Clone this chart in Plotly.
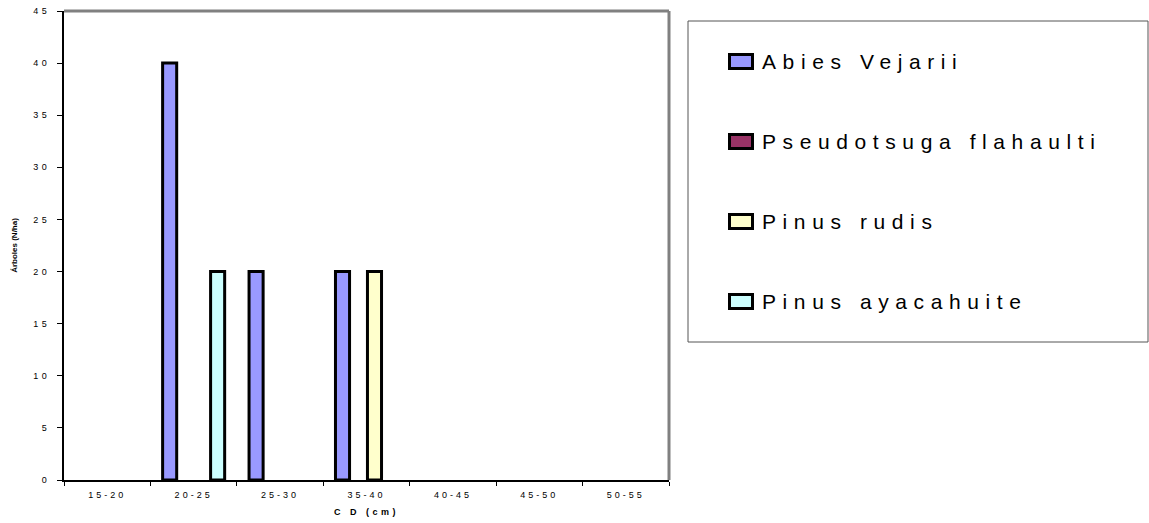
import plotly.graph_objects as go

# ---- data ----
categories = ["15-20", "20-25", "25-30", "35-40", "40-45", "45-50", "50-55"]
series_names = ["Abies Vejarii", "Pseudotsuga flahaulti", "Pinus rudis", "Pinus ayacahuite"]
abies_vejarii = [0, 40, 20, 20, 0, 0, 0]
pseudotsuga_flahaulti = [0, 0, 0, 0, 0, 0, 0]
pinus_rudis = [0, 0, 0, 20, 0, 0, 0]
pinus_ayacahuite = [0, 20, 0, 0, 0, 0, 0]
series_values = [abies_vejarii, pseudotsuga_flahaulti, pinus_rudis, pinus_ayacahuite]
series_colors = ["#9999FF", "#993366", "#FFFFCC", "#CCFFFF"]
y_tick_values = [0, 5, 10, 15, 20, 25, 30, 35, 40, 45]
x_title = "C D (cm)"
y_title = "Árboles (N/ha)"

# ---- geometry (pixels) ----
W, H = 1149, 523
L, R, T, B = 64, 669, 11, 480
FONT = "Liberation Sans, Arial, sans-serif"


def px_x(px):
    return (px - L) / (R - L)


def px_y(py):
    return (B - py) / (B - T)


def spaced(s, sp):
    return f'<span style="letter-spacing:{sp}px">{s}</span>'


fig = go.Figure()
for name, vals, col in zip(series_names, series_values, series_colors):
    # empty classes (0 trees) are drawn as no bar, like the original spreadsheet chart
    fig.add_trace(go.Bar(
        x=categories, y=[v if v else None for v in vals], name=name,
        marker=dict(color=col, line=dict(color="black", width=3)),
        showlegend=False,
    ))

# top / right gray frame
shapes = [
    dict(type="line", xref="paper", yref="paper", x0=0, x1=1, y0=1, y1=1,
         line=dict(color="#808080", width=3)),
    dict(type="line", xref="paper", yref="paper", x0=1, x1=1, y0=0, y1=1,
         line=dict(color="#808080", width=3)),
    # legend box
    dict(type="rect", xref="paper", yref="paper",
         x0=px_x(688), x1=px_x(1148), y0=px_y(342), y1=px_y(21),
         line=dict(color="#555555", width=1), fillcolor="white"),
]
annotations = []
row_centers = [61.5, 141.5, 221.5, 301.5]
for name, col, cy in zip(series_names, series_colors, row_centers):
    shapes.append(dict(type="rect", xref="paper", yref="paper",
                       x0=px_x(729.5), x1=px_x(752.5),
                       y0=px_y(cy + 7), y1=px_y(cy - 7),
                       fillcolor=col, line=dict(color="black", width=3)))
    annotations.append(dict(xref="paper", yref="paper", x=px_x(760), y=px_y(cy),
                            xanchor="left", yanchor="middle", showarrow=False,
                            text=spaced(name, 6.6),
                            font=dict(family=FONT, size=21, color="black")))

fig.update_layout(
    width=W, height=H,
    margin=dict(l=L, r=W - R, t=T, b=H - B, pad=0, autoexpand=False),
    paper_bgcolor="white", plot_bgcolor="white",
    barmode="group", bargap=0.26, bargroupgap=0.12,
    shapes=shapes, annotations=annotations,
    font=dict(family=FONT, color="black"),
    xaxis=dict(
        type="category", automargin=False,
        tickmode="array", tickvals=categories,
        ticktext=[spaced(c, 3) for c in categories],
        tickfont=dict(family=FONT, size=9, color="black"),
        tickson="boundaries", ticks="outside", ticklen=4, tickwidth=1, tickcolor="black",
        ticklabelstandoff=5,
        showline=True, linecolor="black", linewidth=2,
        showgrid=False, zeroline=False,
        title=dict(text="<b>" + spaced(x_title, 3.5) + "</b>", standoff=10,
                   font=dict(family=FONT, size=9, color="black")),
    ),
    yaxis=dict(
        range=[0, 45], automargin=False,
        tickmode="array", tickvals=y_tick_values,
        ticktext=[spaced(str(v), 3.5) for v in y_tick_values],
        tickfont=dict(family=FONT, size=9, color="black"),
        ticks="outside", ticklen=5, tickwidth=1, tickcolor="black",
        ticklabelstandoff=5,
        showline=True, linecolor="black", linewidth=2,
        showgrid=False, zeroline=False,
        title=dict(text="<b>" + y_title + "</b>", standoff=14,
                   font=dict(family=FONT, size=8, color="black")),
    ),
)

fig.write_html("out.html")
